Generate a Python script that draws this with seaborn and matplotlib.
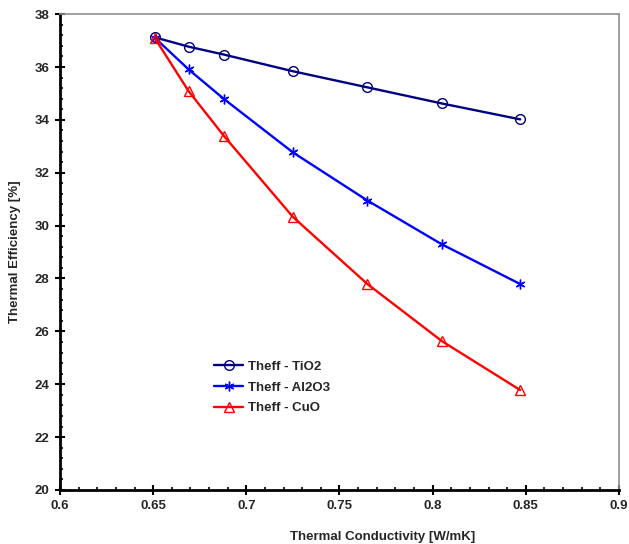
import matplotlib
matplotlib.use("Agg")
import matplotlib.pyplot as plt
import seaborn as sns
import pandas as pd
from matplotlib.ticker import MultipleLocator

# Values
conductivity = [0.651, 0.669, 0.688, 0.725, 0.765, 0.805, 0.847]
theff_tio2 = [37.12, 36.77, 36.47, 35.84, 35.23, 34.62, 34.02]
theff_al2o3 = [37.10, 35.91, 34.79, 32.77, 30.95, 29.29, 27.79]
theff_cuo = [37.08, 35.09, 33.39, 30.33, 27.79, 25.63, 23.78]

series = [
    ("Theff - TiO2", theff_tio2, "#000080", "o"),
    ("Theff - Al2O3", theff_al2o3, "#0000FF", (6, 2, 0)),
    ("Theff - CuO", theff_cuo, "#FF0000", "^"),
]

sns.set_style("white")
plt.rcParams["font.family"] = ["Liberation Sans", "DejaVu Sans"]
plt.rcParams["font.weight"] = "bold"

fig = plt.figure(figsize=(6.29, 5.44), dpi=100)
ax = fig.add_axes([0.0954, 0.0993, 0.8886, 0.8747])

for name, vals, color, marker in series:
    df = pd.DataFrame({"x": conductivity, "y": vals})
    sns.lineplot(data=df, x="x", y="y", ax=ax, color=color, marker=marker,
                 markersize=7, markerfacecolor="none", markeredgecolor=color,
                 markeredgewidth=1.0, linewidth=1.7, label=name)

ax.set_xlim(0.6, 0.9)
ax.set_ylim(20, 38)
ax.xaxis.set_major_locator(MultipleLocator(0.05))
ax.xaxis.set_minor_locator(MultipleLocator(0.01))
ax.yaxis.set_major_locator(MultipleLocator(2))
ax.yaxis.set_minor_locator(MultipleLocator(0.4))
ax.set_xticklabels([f"{v:g}" for v in ax.get_xticks()])

ax.tick_params(which="major", direction="inout", length=7, width=1.5,
               labelsize=9.5, color="black", pad=4)
ax.tick_params(which="minor", direction="in", length=2.5, width=1.2, color="black")
ax.tick_params(axis="x", which="both", bottom=True, top=False)
ax.tick_params(axis="y", which="both", left=True, right=False)

for side in ["left", "bottom"]:
    ax.spines[side].set_color("black")
    ax.spines[side].set_linewidth(2)
for side in ["top", "right"]:
    ax.spines[side].set_color("#909090")
    ax.spines[side].set_linewidth(1.2)

ax.set_xlabel("Thermal Conductivity [W/mK]", fontsize=9.5, fontweight="bold")
ax.xaxis.set_label_coords(0.578, -0.087)
ax.set_ylabel("Thermal Efficiency [%]", fontsize=9.5, fontweight="bold", labelpad=10)

leg = ax.legend(loc="upper left", bbox_to_anchor=(0.255, 0.297), frameon=False,
                fontsize=9.5, handlelength=2.2, handletextpad=0.35, labelspacing=0.65)
for t in leg.get_texts():
    t.set_fontweight("bold")

fig.savefig("out.png", dpi=100)
